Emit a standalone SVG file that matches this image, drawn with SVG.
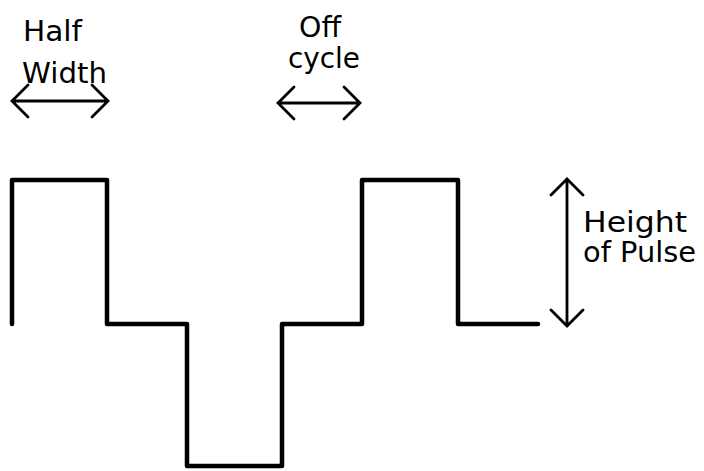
<svg xmlns="http://www.w3.org/2000/svg" width="704" height="471" viewBox="0 0 704 471">
<style>
.t{font-family:"DejaVu Sans","Liberation Sans",sans-serif;font-size:28px;fill:#000}
.wave{fill:none;stroke:#000;stroke-width:4.5;stroke-linejoin:round;stroke-linecap:round}
.arr{fill:none;stroke:#000;stroke-width:2.8;stroke-linecap:round;stroke-linejoin:miter}
</style>
<rect width="704" height="471" fill="#fff"/>
<g id="waveform">
<path class="wave" d="M12,324 V180 H107 V324 H187 V466 H282 V324 H362 V180 H458 V324 H538"/>
</g>
<g id="connectors">
<path class="arr" d="M12,101 H108 M28,85 L12,101 L28,117 M92,85 L108,101 L92,117"/>
<path class="arr" d="M278,103 H360 M294,87 L278,103 L294,119 M344,87 L360,103 L344,119"/>
<path class="arr" d="M567,179 V326 M551,195 L567,179 L583,195 M551,310 L567,326 L583,310"/>
</g>
<g id="half-width">
<text class="t" x="23" y="41" textLength="59" lengthAdjust="spacingAndGlyphs">Half</text>
<text class="t" x="22" y="83" textLength="85" lengthAdjust="spacingAndGlyphs">Width</text>
</g>
<g id="off-cycle">
<text class="t" x="299" y="37" textLength="42" lengthAdjust="spacingAndGlyphs">Off</text>
<text class="t" x="288" y="68" textLength="72" lengthAdjust="spacingAndGlyphs">cycle</text>
</g>
<g id="height-of-pulse">
<text class="t" x="583" y="232" textLength="104" lengthAdjust="spacingAndGlyphs">Height</text>
<text class="t" x="583" y="262" textLength="113" lengthAdjust="spacingAndGlyphs">of Pulse</text>
</g>
</svg>
